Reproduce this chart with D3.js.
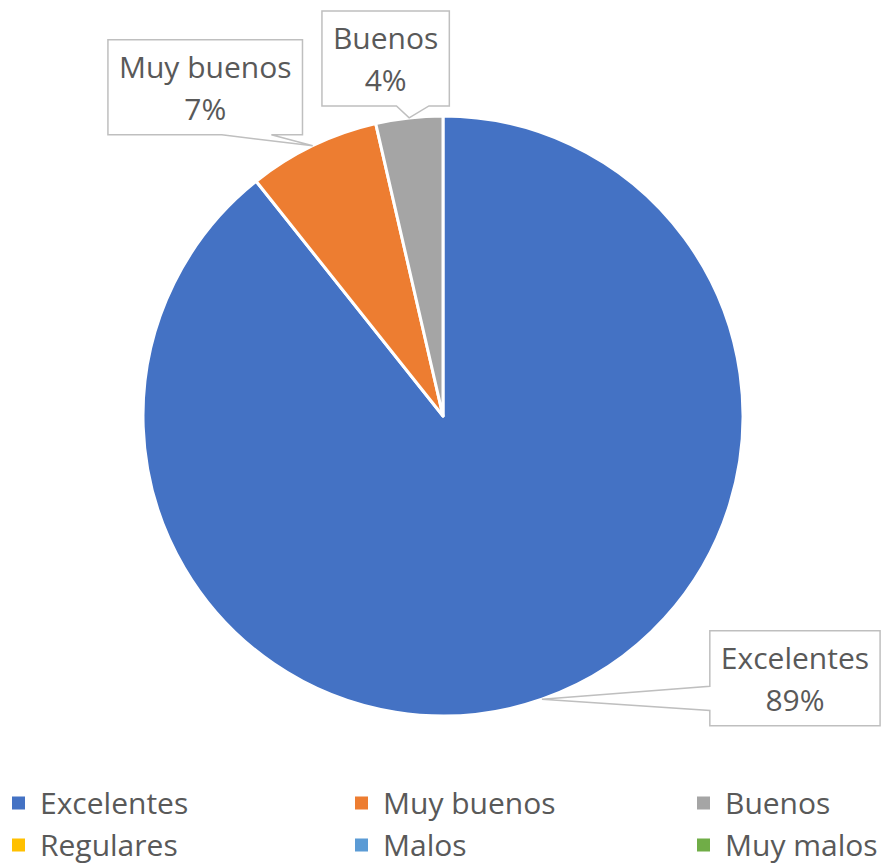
<!DOCTYPE html>
<html><head><meta charset="utf-8">
<script src="https://cdn.jsdelivr.net/npm/d3@7"></script>
<style>body{margin:0;background:#fff}svg{display:block}text{font-family:"Open Sans",sans-serif;fill:#595959}</style>
</head><body><svg id="c" width="886" height="863"></svg>
<script>
const categories = ["Excelentes","Muy buenos","Buenos","Regulares","Malos","Muy malos"];
const values = [89.3, 7.1, 3.6, 0, 0, 0];
const colors = ["#4472C4","#ED7D31","#A5A5A5","#FFC000","#5B9BD5","#70AD47"];

const W = 886, H = 863, cx = 443, cy = 416, R = 300, FS = 30;
const svg = d3.select("#c");
const data = categories.map((c,i)=>({cat:c, value:values[i], color:colors[i]}));
const total = d3.sum(values);
const pie = d3.pie().sort(null).value(d=>d.value);
const arcs = pie(data);
const arc = d3.arc().innerRadius(0).outerRadius(R);
const g = svg.append("g").attr("transform",`translate(${cx},${cy})`);
g.selectAll("path").data(arcs.filter(a=>a.data.value>0)).join("path")
  .attr("d",arc).attr("fill",d=>d.data.color)
  .attr("stroke","#fff").attr("stroke-width",3).attr("stroke-linejoin","round");

// callout layout (offset of box centre from tip, edge where pointer attaches)
const callouts = {
  "Excelentes": {dx:253, dy:-21, side:"left"},
  "Muy buenos": {dx:-107.5, dy:-58.5, side:"bottom"},
  "Buenos": {dx:-23.5, dy:-59.5, side:"bottom"}
};
const fmt = d3.format(".0%");
arcs.filter(a=>a.data.value>0).forEach(a=>{
  const co = callouts[a.data.cat];
  const mid = (a.startAngle+a.endAngle)/2;
  const tx = cx + R*Math.sin(mid), ty = cy - R*Math.cos(mid);
  const bx = tx+co.dx, by = ty+co.dy;
  const lg = svg.append("g");
  const t1 = lg.append("text").attr("text-anchor","middle").attr("font-size",FS).text(a.data.cat);
  const tw = t1.node().getComputedTextLength();
  const bw = Math.max(tw, 40)+22, bh = 95;
  const x0 = bx-bw/2, y0 = by-bh/2, x1 = bx+bw/2, y1 = by+bh/2;
  let p;
  if(co.side==="bottom"){
    const a1 = x0+0.585*bw, a2 = x0+0.84*bw;
    p = [[x0,y0],[x1,y0],[x1,y1],[a2,y1],[tx,ty],[a1,y1],[x0,y1]];
  } else {
    const a1 = y0+0.585*bh, a2 = y0+0.84*bh;
    p = [[x0,y0],[x1,y0],[x1,y1],[x0,y1],[x0,a2],[tx,ty],[x0,a1]];
  }
  lg.insert("path","text").attr("d",d3.line()(p)+"Z").attr("fill","#fff")
    .attr("stroke","#BFBFBF").attr("stroke-width",1.5);
  t1.attr("x",bx).attr("y",y0+38);
  lg.append("text").attr("text-anchor","middle").attr("font-size",FS)
    .attr("x",bx).attr("y",y0+80).text(fmt(a.data.value/total));
});

// legend
const colX = [12, 355, 697], rowY = [803, 845];
const lg = svg.append("g");
data.forEach((d,i)=>{
  const x = colX[i%3], y = rowY[Math.floor(i/3)];
  lg.append("rect").attr("x",x).attr("y",y-6.5).attr("width",13).attr("height",13).attr("fill",d.color);
  lg.append("text").attr("x",x+28).attr("y",y).attr("dy","0.35em").attr("font-size",FS).text(d.cat);
});
</script></body></html>
